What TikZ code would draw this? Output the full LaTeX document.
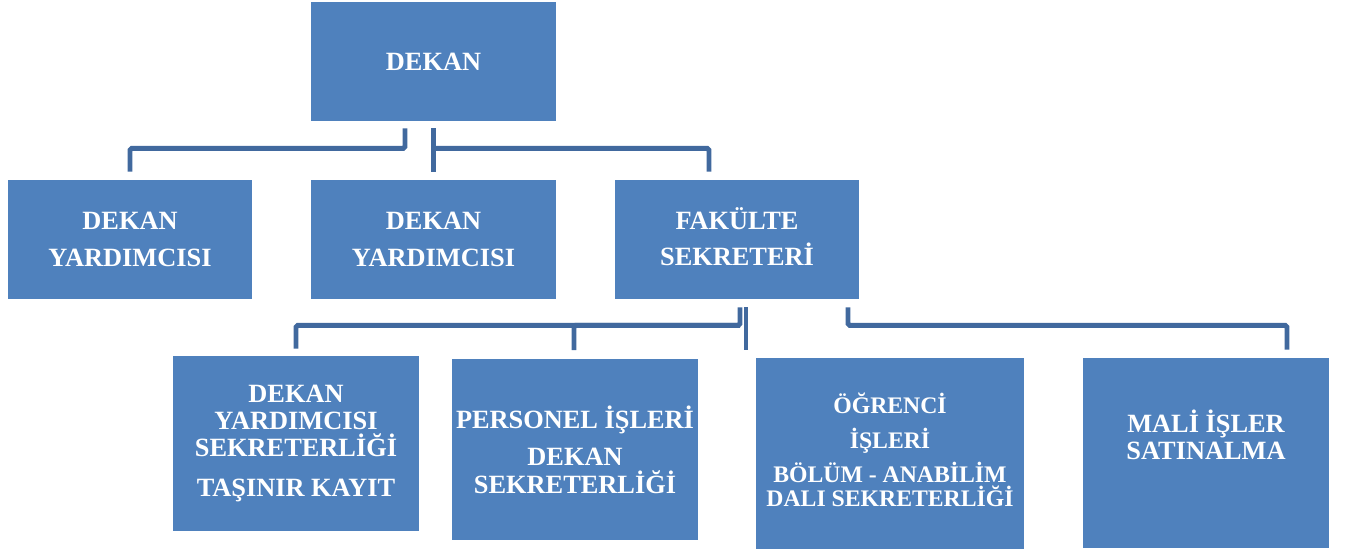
\documentclass[tikz,border=0pt]{standalone}
\usepackage{fontspec}
\setmainfont{Liberation Serif}
\usepackage{tikz}
\usetikzlibrary{calc}
\definecolor{boxblue}{RGB}{79,129,189}
\definecolor{lineblue}{RGB}{65,105,158}
\tikzstyle{unitbox}=[rectangle, fill=boxblue, text=white, font=\bfseries\fontsize{15}{15.5}\selectfont, align=center, inner sep=0pt, minimum width=4.9cm, minimum height=2.38cm]
\tikzstyle{link}=[draw=lineblue, line width=2.8pt, rounded corners=1pt]
\newcommand{\unitbox}{\node[unitbox]}

\begin{document}
\begin{tikzpicture}[x=0.02cm, y=-0.02cm]
            \useasboundingbox (0,0) rectangle (1354,554);
            \unitbox (dekan) at (433.5,61.5) {DEKAN};
            \unitbox (dy1) at (130,239.5) [minimum width=4.88cm] {DEKAN\\[6pt]YARDIMCISI};
            \unitbox (dy2) at (433.5,239.5) {DEKAN\\[6pt]YARDIMCISI};
            \unitbox (fs) at (737,239.5) [minimum width=4.88cm, text depth=3pt] {FAKÜLTE\\[5pt]SEKRETERİ};
            \unitbox (dys) at (296,443.5) [minimum width=4.92cm, minimum height=3.5cm] {DEKAN\\YARDIMCISI\\SEKRETERLİĞİ\\[7pt]TAŞINIR KAYIT};
            \unitbox (pers) at (575,449.5) [minimum width=4.92cm, minimum height=3.64cm] {PERSONEL İŞLERİ\\[6pt]DEKAN\\SEKRETERLİĞİ};
            \unitbox (ogr) at (890,453.5) [minimum width=5.38cm, minimum height=3.82cm, text depth=4pt, font=\bfseries\fontsize{13.5}{14}\selectfont] {ÖĞRENCİ\\[6pt]İŞLERİ\\[3.5pt]BÖLÜM - ANABİLİM\\DALI SEKRETERLİĞİ};
            \unitbox (mali) at (1206,453) [minimum width=4.92cm, minimum height=3.8cm, text depth=21pt] {MALİ İŞLER\\SATINALMA};
            \draw[link] ($(dekan.south)+(-28.5,7)$) -- ++(0,20) -| ($(dy1.north)+(0,-8)$);
            \draw[link] ($(dekan.south)+(0,7)$) -- ($(dy2.north)+(0,-8)$);
            \draw[link] ($(dekan.south)+(0,27)$) -| ($(fs.north)+(-28,-8)$);
            \draw[link] ($(fs.south)+(3,8)$) -- ++(0,18) -| ($(dys.north)+(0,-7)$);
            \draw[link] ($(fs.south)+(3,26)$) -| ($(pers.north)+(-1,-8)$);
            \draw[link] ($(fs.south)+(9,8)$) -- ++(0,43);
            \draw[link] ($(fs.south)+(111,8)$) -- ++(0,18) -| ($(mali.north)+(81,-8)$);
\end{tikzpicture}
\end{document}
